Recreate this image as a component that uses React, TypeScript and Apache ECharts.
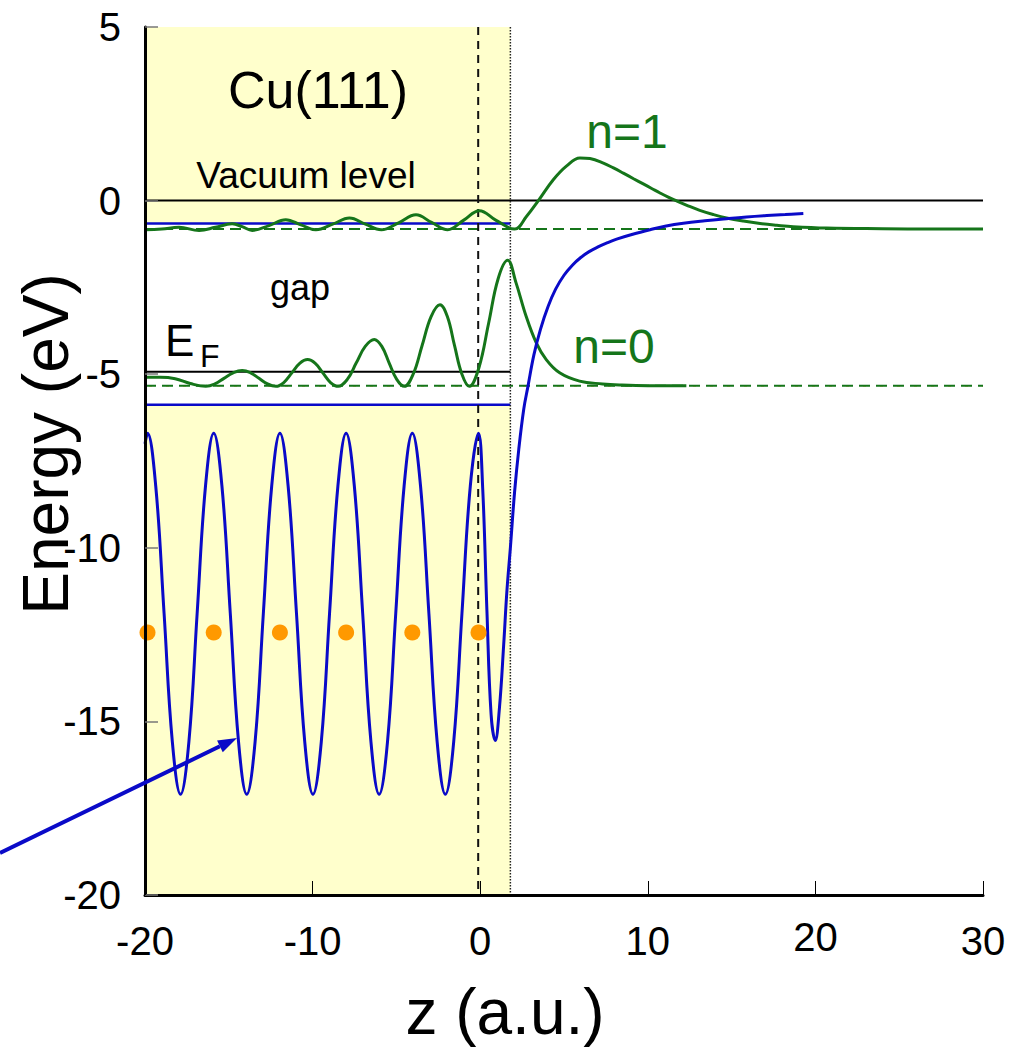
import React, { useEffect, useRef } from "react";
import * as echarts from "echarts";

// ---------- data ----------
const xRange = [-20, 30];
const yRange = [-20, 5];

// crystal region (z < crystalEdge) and projected bulk bands
const crystalEdge = 1.8;
const upperBand = [-0.66, 5];
const lowerBand = [-20, -5.88];

// energy levels (eV)
const vacuumLevel = 0;
const fermiLevel = -4.93;
const n1Level = -0.82;
const n0Level = -5.33;

// surface planes
const imagePlaneZ = -0.12;

// atom positions (z) and their drawing energy
const atomZ = [-19.85, -15.9, -11.95, -8.0, -4.05, -0.1];
const atomE = -12.44;

// model potential (z, eV)
const potential: [number, number][] = [
  [-20, -7.0],
  [-19.85, -6.7], [-19.36, -8.22], [-18.86, -11.9], [-18.37, -15.58], [-17.88, -17.1], [-17.38, -15.58], [-16.89, -11.9], [-16.39, -8.22],
  [-15.9, -6.7], [-15.41, -8.22], [-14.91, -11.9], [-14.42, -15.58], [-13.93, -17.1], [-13.43, -15.58], [-12.94, -11.9], [-12.44, -8.22],
  [-11.95, -6.7], [-11.46, -8.22], [-10.96, -11.9], [-10.47, -15.58], [-9.98, -17.1], [-9.48, -15.58], [-8.99, -11.9], [-8.49, -8.22],
  [-8.0, -6.7], [-7.51, -8.22], [-7.01, -11.9], [-6.52, -15.58], [-6.03, -17.1], [-5.53, -15.58], [-5.04, -11.9], [-4.54, -8.22],
  [-4.05, -6.7], [-3.56, -8.22], [-3.06, -11.9], [-2.57, -15.58], [-2.08, -17.1], [-1.58, -15.58], [-1.09, -11.9], [-0.59, -8.22],
  [-0.1, -6.7], [0.15, -8.3], [0.4, -11.8], [0.65, -14.8], [0.9, -15.55], [1.15, -14.6], [1.4, -12.8], [1.6, -11.2],
  [1.8, -10.0], [2.05, -8.4], [2.3, -7.17], [2.6, -6.0], [2.85, -5.35], [3.2, -4.45], [3.6, -3.7], [4.05, -3.05],
  [4.5, -2.55], [5.0, -2.15], [5.5, -1.86], [6.0, -1.64], [6.5, -1.47], [7.0, -1.34], [7.6, -1.21], [8.14, -1.11],
  [9.1, -0.97], [10.13, -0.84], [11.1, -0.73], [12.12, -0.65], [13.4, -0.58], [14.7, -0.52], [15.9, -0.47], [17.1, -0.43],
  [18.2, -0.4], [19.28, -0.37],
];

// n=0 surface state wavefunction drawn on its level
const psi0: [number, number][] = [
  [-20, -5.09], [-19.1, -5.09], [-18.2, -5.13], [-17.3, -5.27], [-16.37, -5.35], [-15.83, -5.28], [-15.29, -5.12], [-14.74, -4.96],
  [-14.2, -4.89], [-13.7, -4.96], [-13.2, -5.12], [-12.69, -5.28], [-12.19, -5.35], [-11.72, -5.24], [-11.25, -4.97], [-10.77, -4.69],
  [-10.3, -4.58], [-9.84, -4.69], [-9.38, -4.97], [-8.93, -5.24], [-8.47, -5.35], [-7.93, -5.15], [-7.4, -4.68], [-6.86, -4.2],
  [-6.32, -4.0], [-5.87, -4.2], [-5.43, -4.68], [-4.98, -5.15], [-4.53, -5.35], [-4.0, -5.0], [-3.47, -4.18], [-2.93, -3.34],
  [-2.4, -3.0], [-1.96, -3.34], [-1.53, -4.18], [-1.09, -5.0], [-0.65, -5.35], [-0.08, -4.82], [0.5, -3.54], [1.07, -2.25],
  [1.64, -1.72], [2.14, -2.37], [2.74, -3.33], [3.34, -4.09], [3.94, -4.58], [4.74, -4.96], [5.93, -5.2], [7.3, -5.28],
  [8.3, -5.31], [10.0, -5.33], [12.3, -5.33],
];

// n=1 image-potential state wavefunction drawn on its level
const psi1: [number, number][] = [
  [-20, -0.84], [-19, -0.82], [-17.97, -0.77], [-16.77, -0.86], [-15.8, -0.77], [-14.8, -0.67], [-14.2, -0.75], [-13.6, -0.86],
  [-12.6, -0.72], [-11.6, -0.55], [-10.7, -0.7], [-9.8, -0.84], [-8.8, -0.68], [-7.8, -0.5], [-6.85, -0.68], [-5.9, -0.84],
  [-4.87, -0.64], [-3.83, -0.41], [-2.9, -0.63], [-1.94, -0.84], [-1.0, -0.57], [-0.05, -0.29], [0.95, -0.57], [2.05, -0.82],
  [2.77, -0.45], [3.47, 0.0], [4.36, 0.6], [5.16, 1.0], [5.95, 1.23], [6.55, 1.21], [7.35, 1.08], [7.95, 0.94], [8.54, 0.79],
  [9.15, 0.63], [9.73, 0.48], [10.23, 0.35], [10.73, 0.22], [11.22, 0.1], [11.72, -0.01], [12.4, -0.15], [13.1, -0.28],
  [13.9, -0.4], [14.7, -0.5], [15.7, -0.59], [16.7, -0.66], [17.7, -0.71], [18.68, -0.75], [20.67, -0.79], [24, -0.81],
  [27, -0.82], [30, -0.82],
];

// ---------- styles ----------
const FONT = "Liberation Sans, Arial, sans-serif";
const GREEN = "#15751a";
const BLUE = "#0a0ac8";
const ORANGE = "#ff9900";
const YELLOW = "#ffffcc";

function hline(y: number, x0: number, x1: number, color: string, width: number, type: any = "solid", z = 3, extra: any = {}) {
  return {
    type: "line",
    data: [[x0, y], [x1, y]],
    symbol: "none",
    silent: true,
    z,
    lineStyle: { color, width, type, ...extra },
  };
}

function vline(x: number, color: string, width: number, type: any, z = 3) {
  return {
    type: "line",
    data: [[x, yRange[1]], [x, yRange[0]]],
    symbol: "none",
    silent: true,
    z,
    lineStyle: { color, width, type },
  };
}

export default function App() {
  const ref = useRef<HTMLDivElement>(null);

  useEffect(() => {
    if (!ref.current) return;
    const chart = echarts.init(ref.current, undefined, { renderer: "svg" });

    // arrow geometry (annotation, in pixels)
    const tip = [237, 738];
    const tail = [0, 853];
    const dx = tip[0] - tail[0];
    const dy = tip[1] - tail[1];
    const len = Math.sqrt(dx * dx + dy * dy);
    const ux = dx / len, uy = dy / len;
    const headLen = 19, headHalf = 6.5;
    const bx = tip[0] - ux * headLen, by = tip[1] - uy * headLen;

    const option: any = {
      animation: false,
      backgroundColor: "#ffffff",
      grid: { left: 145, top: 27, right: 31, bottom: 154, containLabel: false },
      xAxis: {
        type: "value",
        min: xRange[0],
        max: xRange[1],
        interval: 10,
        z: 20,
        splitLine: { show: false },
        axisLine: { show: true, onZero: false, lineStyle: { color: "#000", width: 3 } },
        axisTick: { show: true, inside: true, length: 14, lineStyle: { color: "#000", width: 1 } },
        axisLabel: {
          margin: 26,
          fontSize: 40,
          fontFamily: FONT,
          color: "#000",
          formatter: (v: number) => (v === 20 ? "{hi|20}" : String(v)),
          rich: { hi: { fontSize: 40, fontFamily: FONT, color: "#000", lineHeight: 32 } },
        },
      },
      yAxis: {
        type: "value",
        min: yRange[0],
        max: yRange[1],
        interval: 5,
        z: 20,
        splitLine: { show: false },
        axisLine: { show: true, onZero: false, lineStyle: { color: "#000", width: 3 } },
        axisTick: { show: true, inside: true, length: 13, lineStyle: { color: "#777", width: 1.5 } },
        axisLabel: { margin: 24, fontSize: 40, fontFamily: FONT, color: "#000" },
      },
      graphic: [
        { type: "text", x: 46, y: 444, rotation: Math.PI / 2, z: 50,
          style: { text: "Energy (eV)", font: `64px ${FONT}`, fill: "#000", align: "center", verticalAlign: "middle" } },
        { type: "text", x: 505, y: 1012, z: 50,
          style: { text: "z (a.u.)", font: `64px ${FONT}`, fill: "#000", align: "center", verticalAlign: "middle" } },
        { type: "text", x: 318, y: 90, z: 50,
          style: { text: "Cu(111)", font: `52px ${FONT}`, fill: "#000", align: "center", verticalAlign: "middle" } },
        { type: "text", x: 306, y: 175, z: 50,
          style: { text: "Vacuum level", font: `37px ${FONT}`, fill: "#000", align: "center", verticalAlign: "middle" } },
        { type: "text", x: 300, y: 287, z: 50,
          style: { text: "gap", font: `36px ${FONT}`, fill: "#000", align: "center", verticalAlign: "middle" } },
        { type: "text", x: 165, y: 340, z: 50,
          style: { text: "E", font: `44px ${FONT}`, fill: "#000", align: "left", verticalAlign: "middle" } },
        { type: "text", x: 200, y: 356, z: 50,
          style: { text: "F", font: `32px ${FONT}`, fill: "#000", align: "left", verticalAlign: "middle" } },
        { type: "text", x: 627, y: 131, z: 50,
          style: { text: "n=1", font: `48px ${FONT}`, fill: GREEN, align: "center", verticalAlign: "middle" } },
        { type: "text", x: 614, y: 346, z: 50,
          style: { text: "n=0", font: `48px ${FONT}`, fill: GREEN, align: "center", verticalAlign: "middle" } },
        { type: "line", z: 60,
          shape: { x1: tail[0], y1: tail[1], x2: bx, y2: by },
          style: { stroke: BLUE, lineWidth: 4 } },
        { type: "polygon", z: 60,
          shape: { points: [[tip[0], tip[1]], [bx + -uy * headHalf, by + ux * headHalf], [bx - -uy * headHalf, by - ux * headHalf]] },
          style: { fill: BLUE } },
      ],
      series: [
        {
          type: "line",
          data: [],
          silent: true,
          z: 1,
          markArea: {
            silent: true,
            itemStyle: { color: YELLOW, opacity: 1 },
            data: [
              [{ coord: [xRange[0], upperBand[1]] }, { coord: [crystalEdge, upperBand[0]] }],
              [{ coord: [xRange[0], lowerBand[1]] }, { coord: [crystalEdge, lowerBand[0]] }],
            ],
          },
        },
        hline(n0Level, xRange[0], xRange[1], ORANGE, 1.5, [3, 14], 2, { dashOffset: 13 }),
        hline(n0Level, xRange[0], xRange[1], GREEN, 2, [11, 6], 3),
        hline(n1Level, xRange[0], xRange[1], GREEN, 2, [11, 6], 3),
        hline(vacuumLevel, xRange[0], xRange[1], "#000", 2, "solid", 3),
        hline(fermiLevel, xRange[0], crystalEdge, "#000", 2, "solid", 3),
        hline(upperBand[0], xRange[0], crystalEdge, BLUE, 2.4, "solid", 3),
        hline(lowerBand[1], xRange[0], crystalEdge, BLUE, 2.4, "solid", 3),
        vline(crystalEdge, "#222", 1.5, "dotted", 4),
        vline(imagePlaneZ, "#111", 2, [8, 6], 4),
        {
          type: "line",
          data: psi0,
          smooth: 0.4,
          symbol: "none",
          silent: true,
          z: 5,
          lineStyle: { color: GREEN, width: 3 },
        },
        {
          type: "line",
          data: psi1,
          smooth: 0.4,
          symbol: "none",
          silent: true,
          z: 5,
          lineStyle: { color: GREEN, width: 3 },
        },
        {
          type: "line",
          data: potential,
          smooth: 0.4,
          symbol: "none",
          silent: true,
          z: 6,
          lineStyle: { color: BLUE, width: 3 },
        },
        {
          type: "scatter",
          data: atomZ.map((z) => [z, atomE]),
          symbol: "circle",
          symbolSize: 16,
          silent: true,
          z: 7,
          itemStyle: { color: ORANGE, opacity: 1 },
        },
      ],
    };

    chart.setOption(option);
    return () => chart.dispose();
  }, []);

  return (
    <div
      ref={ref}
      style={{ position: "absolute", left: 0, top: 0, width: 1014, height: 1049, background: "#fff" }}
    />
  );
}
